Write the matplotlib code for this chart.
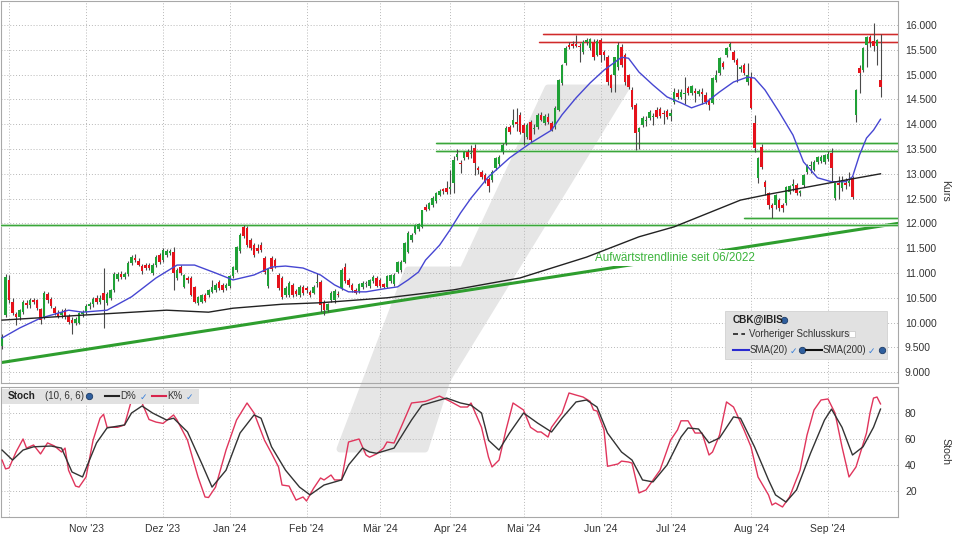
import numpy as np
import pandas as pd
import matplotlib
matplotlib.use("Agg")
import matplotlib.pyplot as plt
from matplotlib.patches import Polygon, Rectangle
from matplotlib.lines import Line2D

plt.rcParams['font.family'] = ['Liberation Sans', 'DejaVu Sans']

# Xetra-Handelstage
holidays = ['2023-12-25', '2023-12-26', '2024-01-01', '2024-03-29', '2024-04-01', '2024-05-01']
dates = pd.bdate_range('2023-09-28', '2024-09-23', freq='C', holidays=holidays)

opens = [
    9.52, 10.15, 10.86, 10.42, 10.18, 10.12, 10.22, 10.40, 10.35, 10.46,
    10.45, 10.27, 10.10, 10.58, 10.48, 10.30, 10.20, 10.15, 10.25, 10.14,
    10.05, 10.00, 10.00, 10.18, 10.22, 10.33, 10.38, 10.50, 10.42, 10.60,
    10.40, 10.50, 10.66, 10.88, 10.98, 10.92, 10.98, 11.20, 11.30, 11.25,
    11.14, 11.16, 11.16, 10.99, 11.16, 11.36, 11.26, 11.36, 11.40, 11.42,
    10.90, 11.12, 10.72, 10.90, 10.90, 10.72, 10.40, 10.42, 10.56, 10.56,
    10.62, 10.66, 10.82, 10.76, 10.70, 10.74, 10.94, 11.06, 11.44, 11.93,
    11.91, 11.67, 11.56, 11.50, 11.56, 11.30, 10.74, 11.30, 11.26, 10.96,
    10.90, 10.56, 10.56, 10.76, 10.64, 10.56, 10.72, 10.70, 10.62, 10.60,
    10.80, 10.82, 10.42, 10.26, 10.45, 10.45, 10.58, 10.70, 11.12, 10.86,
    10.76, 10.66, 10.64, 10.72, 10.78, 10.74, 10.84, 10.90, 10.86, 10.78,
    10.72, 10.84, 10.78, 11.02, 11.06, 11.22, 11.42, 11.66, 11.80, 11.88,
    11.92, 12.34, 12.30, 12.38, 12.46, 12.58, 12.68, 12.72, 12.70, 12.82,
    13.34, 13.22, 13.32, 13.44, 13.40, 13.52, 13.12, 13.04, 12.98, 12.90,
    12.88, 13.12, 13.20, 13.44, 13.62, 13.94, 13.98, 14.04, 14.19, 13.98,
    13.74, 14.04, 13.90, 13.94, 14.19, 14.02, 14.15, 14.02, 13.94, 14.29,
    14.83, 15.23, 15.60, 15.62, 15.62, 15.58, 15.46, 15.66, 15.54, 15.66,
    15.40, 15.70, 15.46, 15.35, 14.99, 14.99, 15.15, 15.56, 15.40, 14.99,
    14.69, 14.39, 13.84, 13.98, 14.06, 14.12, 14.14, 14.29, 14.30, 14.22,
    14.27, 14.16, 14.45, 14.63, 14.55, 14.60, 14.73, 14.62, 14.66, 14.60,
    14.64, 14.59, 14.49, 14.43, 14.90, 15.03, 15.23, 15.40, 15.56, 15.46,
    15.30, 15.12, 15.19, 14.86, 14.95, 14.02, 12.92, 13.54, 12.83, 12.61,
    12.37, 12.37, 12.47, 12.37, 12.41, 12.64, 12.76, 12.77, 12.62, 12.77,
    13.04, 13.16, 13.08, 13.24, 13.26, 13.24, 13.30, 13.42, 12.51, 12.80,
    12.71, 12.80, 12.82, 12.91, 14.19, 15.13, 15.09, 15.60, 15.76, 15.68,
    15.58, 14.89]
highs = [
    9.76, 10.98, 10.96, 10.50, 10.22, 10.28, 10.45, 10.45, 10.50, 10.50,
    10.48, 10.30, 10.64, 10.62, 10.52, 10.34, 10.26, 10.28, 10.30, 10.18,
    10.12, 10.12, 10.22, 10.26, 10.38, 10.42, 10.52, 10.55, 10.55, 11.10,
    10.62, 10.68, 11.02, 11.02, 11.04, 11.02, 11.24, 11.36, 11.38, 11.30,
    11.18, 11.20, 11.20, 11.20, 11.36, 11.40, 11.50, 11.48, 11.48, 11.52,
    11.10, 11.16, 10.98, 10.94, 10.94, 10.74, 10.54, 10.58, 10.60, 10.68,
    10.86, 10.80, 10.86, 10.80, 10.80, 10.96, 11.14, 11.54, 11.80, 11.97,
    11.94, 11.70, 11.60, 11.58, 11.62, 11.34, 11.10, 11.34, 11.30, 11.00,
    10.94, 10.74, 10.84, 10.80, 10.68, 10.76, 10.76, 10.74, 10.66, 10.76,
    11.00, 10.86, 10.46, 10.40, 10.64, 10.68, 10.64, 11.10, 11.20, 10.90,
    10.80, 10.70, 10.80, 10.84, 10.84, 10.88, 10.96, 10.94, 10.90, 10.80,
    10.96, 10.98, 11.00, 11.24, 11.26, 11.62, 11.84, 11.80, 11.98, 12.00,
    12.28, 12.40, 12.44, 12.56, 12.64, 12.70, 12.72, 12.86, 13.08, 13.35,
    13.50, 13.28, 13.46, 13.50, 13.58, 13.60, 13.16, 13.08, 13.02, 12.94,
    13.08, 13.34, 13.38, 13.62, 13.96, 13.98, 14.30, 14.32, 14.24, 14.02,
    14.02, 14.08, 14.00, 14.22, 14.24, 14.20, 14.22, 14.06, 14.36, 14.92,
    15.22, 15.58, 15.66, 15.68, 15.80, 15.64, 15.70, 15.74, 15.74, 15.72,
    15.72, 15.74, 15.50, 15.40, 15.02, 15.36, 15.66, 15.62, 15.44, 15.02,
    14.74, 14.42, 13.94, 14.16, 14.16, 14.28, 14.22, 14.34, 14.34, 14.28,
    14.30, 14.30, 14.72, 14.70, 14.70, 14.95, 14.78, 14.80, 14.72, 14.70,
    14.72, 14.64, 14.52, 14.95, 15.10, 15.36, 15.28, 15.56, 15.66, 15.50,
    15.33, 15.20, 15.24, 15.23, 15.05, 14.19, 13.34, 13.60, 12.88, 12.64,
    12.42, 12.60, 12.52, 12.42, 12.76, 12.78, 12.90, 12.82, 12.68, 13.00,
    13.20, 13.26, 13.28, 13.36, 13.38, 13.40, 13.46, 13.52, 12.84, 12.96,
    12.96, 12.92, 13.04, 12.96, 14.70, 15.20, 15.56, 15.78, 15.80, 16.04,
    15.72, 15.82]
lows = [
    9.46, 10.12, 10.40, 10.15, 9.95, 10.05, 10.18, 10.30, 10.30, 10.38,
    10.25, 9.98, 10.08, 10.40, 10.30, 10.15, 10.10, 10.10, 10.08, 9.98,
    9.78, 9.96, 9.97, 10.12, 10.18, 10.28, 10.32, 10.38, 10.38, 9.89,
    10.35, 10.45, 10.62, 10.84, 10.88, 10.88, 10.94, 11.16, 11.22, 11.14,
    10.98, 11.06, 11.06, 10.96, 11.12, 11.18, 11.22, 11.32, 11.36, 10.66,
    10.86, 10.96, 10.70, 10.80, 10.54, 10.40, 10.36, 10.40, 10.42, 10.52,
    10.60, 10.62, 10.66, 10.62, 10.66, 10.70, 10.90, 11.02, 11.40, 11.70,
    11.52, 11.46, 11.32, 11.40, 11.42, 10.98, 10.70, 11.04, 11.10, 10.66,
    10.48, 10.52, 10.52, 10.52, 10.54, 10.52, 10.56, 10.60, 10.52, 10.58,
    10.72, 10.21, 10.15, 10.22, 10.42, 10.40, 10.52, 10.66, 10.80, 10.72,
    10.62, 10.58, 10.60, 10.68, 10.72, 10.70, 10.80, 10.72, 10.70, 10.70,
    10.70, 10.80, 10.74, 11.00, 11.02, 11.20, 11.40, 11.62, 11.78, 11.85,
    11.90, 12.24, 12.26, 12.34, 12.42, 12.55, 12.60, 12.60, 12.60, 12.62,
    13.28, 13.02, 13.28, 13.30, 13.32, 12.98, 13.00, 12.90, 12.82, 12.63,
    12.84, 13.08, 13.16, 13.40, 13.58, 13.80, 13.94, 13.86, 13.80, 13.58,
    13.70, 13.64, 13.80, 13.90, 14.06, 13.98, 14.00, 13.86, 13.90, 14.26,
    14.80, 15.20, 15.52, 15.54, 15.56, 15.25, 15.42, 15.60, 15.50, 15.30,
    15.38, 15.25, 15.30, 14.80, 14.64, 14.64, 15.10, 15.16, 14.80, 14.70,
    14.30, 13.48, 13.50, 13.94, 13.96, 14.08, 13.98, 14.12, 14.12, 14.00,
    14.10, 14.06, 14.40, 14.50, 14.50, 14.40, 14.58, 14.58, 14.44, 14.56,
    14.40, 14.40, 14.29, 14.40, 14.85, 15.00, 15.12, 15.36, 15.50, 15.26,
    14.85, 15.05, 15.00, 14.80, 14.30, 13.44, 12.81, 13.10, 12.57, 12.30,
    12.11, 12.30, 12.24, 12.22, 12.38, 12.60, 12.66, 12.58, 12.55, 12.74,
    13.00, 13.02, 13.05, 13.20, 13.22, 13.20, 13.26, 12.86, 12.48, 12.50,
    12.66, 12.70, 12.76, 12.50, 14.04, 14.62, 15.05, 15.15, 15.56, 15.48,
    15.20, 14.55]
closes = [
    9.70, 10.92, 10.46, 10.19, 10.12, 10.25, 10.42, 10.35, 10.46, 10.42,
    10.29, 10.05, 10.60, 10.45, 10.33, 10.20, 10.14, 10.22, 10.11, 10.01,
    10.00, 10.08, 10.19, 10.22, 10.33, 10.38, 10.48, 10.42, 10.50, 10.45,
    10.58, 10.65, 10.98, 10.97, 10.92, 10.98, 11.20, 11.32, 11.26, 11.16,
    11.04, 11.10, 11.10, 11.16, 11.32, 11.22, 11.46, 11.44, 11.44, 11.00,
    11.06, 11.00, 10.96, 10.86, 10.56, 10.42, 10.52, 10.56, 10.44, 10.66,
    10.72, 10.76, 10.70, 10.66, 10.76, 10.94, 11.12, 11.52, 11.77, 11.74,
    11.56, 11.50, 11.36, 11.44, 11.46, 11.02, 11.08, 11.08, 11.14, 10.70,
    10.52, 10.70, 10.80, 10.56, 10.58, 10.72, 10.60, 10.66, 10.56, 10.72,
    10.82, 10.35, 10.25, 10.38, 10.60, 10.64, 10.55, 11.06, 10.84, 10.76,
    10.66, 10.60, 10.78, 10.80, 10.78, 10.86, 10.92, 10.74, 10.74, 10.72,
    10.94, 10.96, 10.96, 11.22, 11.22, 11.60, 11.80, 11.77, 11.96, 11.98,
    12.26, 12.28, 12.42, 12.52, 12.62, 12.66, 12.66, 12.64, 12.74, 13.28,
    13.40, 13.20, 13.44, 13.34, 13.42, 13.22, 13.08, 12.94, 12.86, 12.76,
    13.04, 13.32, 13.34, 13.58, 13.92, 13.84, 14.08, 14.00, 13.84, 13.82,
    13.98, 13.68, 13.92, 14.19, 14.09, 14.16, 14.04, 13.88, 14.33, 14.89,
    15.19, 15.54, 15.56, 15.58, 15.58, 15.56, 15.66, 15.70, 15.72, 15.35,
    15.68, 15.40, 15.40, 14.85, 14.73, 15.35, 15.60, 15.19, 14.85, 14.75,
    14.35, 13.82, 13.92, 14.12, 14.08, 14.25, 14.16, 14.15, 14.16, 14.20,
    14.14, 14.22, 14.65, 14.55, 14.65, 14.62, 14.63, 14.77, 14.62, 14.66,
    14.60, 14.45, 14.39, 14.93, 15.00, 15.33, 15.15, 15.54, 15.62, 15.29,
    15.20, 15.16, 15.03, 15.00, 14.33, 13.52, 13.32, 13.14, 12.73, 12.37,
    12.32, 12.57, 12.31, 12.31, 12.73, 12.75, 12.78, 12.61, 12.66, 12.98,
    13.18, 13.18, 13.24, 13.34, 13.34, 13.38, 13.40, 13.12, 12.81, 12.78,
    12.88, 12.78, 12.84, 12.53, 14.69, 15.03, 15.54, 15.76, 15.66, 15.58,
    15.70, 14.75]

# gleitende Durchschnitte (Tag-Index, Wert)
sma20 = [(0, 9.69), (5, 9.89), (11, 10.09), (19, 10.25), (23, 10.21), (30, 10.25),
         (37, 10.52), (44, 10.90), (50, 11.16), (55, 11.16), (61, 11.00), (66, 10.86),
         (72, 10.96), (77, 11.12), (81, 11.14), (86, 11.10), (91, 10.96), (95, 10.76),
         (99, 10.62), (104, 10.62), (109, 10.68), (113, 10.72), (116, 10.86), (119, 11.02),
         (121, 11.26), (125, 11.56), (128, 11.87), (131, 12.21), (134, 12.51), (139, 12.94),
         (145, 13.32), (151, 13.62), (157, 13.88), (160, 14.19), (164, 14.53), (168, 14.83),
         (172, 15.09), (177, 15.35), (179, 15.33), (182, 15.05), (186, 14.79), (190, 14.55),
         (194, 14.43), (197, 14.33), (201, 14.43), (205, 14.65), (209, 14.85), (213, 14.95),
         (215, 14.93), (218, 14.69), (222, 14.25), (226, 13.78), (229, 13.24), (233, 12.92),
         (237, 12.84), (241, 12.84), (243, 12.94), (245, 13.38), (247, 13.72), (249, 13.88),
         (251, 14.10)]
sma200 = [(0, 10.05), (23, 10.15), (47, 10.25), (59, 10.21), (66, 10.29), (80, 10.37),
          (91, 10.40), (110, 10.50), (129, 10.66), (148, 10.90), (167, 11.32), (182, 11.73),
          (192, 11.93), (211, 12.47), (220, 12.60), (236, 12.81), (251, 13.00)]

# Stochastik (10, 6, 6)
stoch_k = [(0, 43.8), (1, 37), (2, 37.7), (4, 50), (6, 60), (7, 53), (9, 55.4), (11, 48.5),
           (13, 57), (15, 54.6), (17, 50), (18, 53), (19, 36), (21, 23.8), (22, 23), (24, 30.8),
           (26, 59), (28, 76), (29, 79), (30, 69), (33, 69), (35, 70.8), (37, 90), (39, 90),
           (40, 87.7), (42, 75), (44, 73), (46, 72), (49, 78.5), (50, 74.6), (53, 59), (56, 30.8),
           (58, 15.4), (59, 15), (61, 23), (64, 51.5), (67, 74.6), (70, 87.7), (72, 80), (75, 59),
           (77, 49), (79, 38.5), (80, 24.6), (82, 23.8), (84, 13), (86, 15.4), (87, 12.3), (89, 22),
           (91, 30), (92, 28.5), (94, 32.3), (95, 28.5), (97, 28.5), (99, 57.7), (102, 60),
           (104, 47.7), (105, 46), (107, 48.5), (109, 53), (110, 57.7), (112, 56.9), (114, 69),
           (117, 87.7), (121, 89), (125, 93), (128, 89), (131, 84.6), (133, 84.6), (134, 87.7),
           (137, 69), (139, 46), (140, 38.5), (142, 43.8), (144, 67), (146, 87.7), (149, 82.3),
           (151, 69), (153, 65.4), (154, 65.4), (156, 61.5), (157, 69), (160, 80), (162, 95.4),
           (164, 93.8), (166, 92.3), (168, 89), (169, 82.3), (170, 81.5), (172, 67), (173, 39),
           (176, 40.8), (177, 43), (179, 42.3), (180, 41.5), (182, 18.5), (184, 20.8), (188, 36),
           (191, 59), (193, 67), (194, 74), (196, 74), (198, 64.6), (200, 64.6), (202, 47.7),
           (203, 50), (205, 63), (207, 88.5), (209, 84.6), (212, 67), (214, 54), (216, 30.8),
           (219, 17), (220, 9.2), (221, 10.8), (223, 7.7), (225, 15.4), (228, 36), (230, 63),
           (232, 82.3), (234, 90), (236, 90.8), (238, 80), (240, 54), (242, 30.8), (244, 38.5),
           (247, 64.6), (248, 80), (249, 91.5), (250, 92.3), (251, 87)]
stoch_d = [(0, 51.5), (3, 43.8), (6, 51.5), (9, 54), (14, 54.6), (17, 53), (20, 34.6), (23, 30.8),
           (27, 57), (30, 68.5), (35, 70.8), (37, 80), (40, 85.4), (43, 80), (47, 74.6), (49, 76),
           (53, 65.4), (57, 41.5), (60, 23), (64, 36), (68, 64.6), (72, 78.5), (74, 76), (77, 54),
           (81, 36), (85, 23), (88, 17), (92, 24.6), (97, 28.5), (99, 40), (103, 53), (105, 50),
           (107, 49), (112, 53), (117, 74.6), (120, 86), (127, 91.5), (131, 87.7), (134, 86),
           (137, 80), (139, 59), (142, 51.5), (145, 64.6), (149, 80), (153, 72.3), (157, 65.4),
           (160, 76), (164, 88.5), (167, 90), (170, 84.6), (173, 64.6), (177, 50), (180, 43.8),
           (183, 28.5), (186, 27), (190, 40), (194, 61.5), (196, 68.5), (199, 67.7), (202, 57),
           (205, 60.8), (209, 77), (211, 76), (215, 54), (219, 28.5), (221, 17), (224, 11.5),
           (227, 20.8), (231, 49), (235, 74.6), (237, 83), (240, 69), (243, 47.7), (246, 54),
           (249, 69), (251, 83)]

# eingezeichnete Linien: (Kurs, Start-Index)
green_levels = [(11.97, -1), (12.11, 212), (13.46, 124), (13.62, 124)]
red_levels = [(15.65, 153.5), (15.82, 154.5)]
trend_x = [-0.6, 256]
trend_y = [9.19, 12.00]
trend_text = "Aufwärtstrendlinie seit 06/2022"
month_names = {10: "", 11: "Nov '23", 12: "Dez '23", 1: "Jan '24", 2: "Feb '24", 3: "Mär '24",
               4: "Apr '24", 5: "Mai '24", 6: "Jun '24", 7: "Jul '24", 8: "Aug '24", 9: "Sep '24"}

W, H = 960, 540
GREEN = '#1fa136'
RED = '#e5121b'
GRID = '#b8b8b8'
TXT = '#333333'


def fbox(left, top, right, bottom):
    return [left / W, 1 - bottom / H, (right - left) / W, (bottom - top) / H]


def fp(x, y):
    return x / W, 1 - y / H


fig = plt.figure(figsize=(9.6, 5.4), dpi=100)
fig.patch.set_facecolor('white')

# Wasserzeichen hinter beiden Panels
wm = [(548, 88), (626, 88), (447, 380), (425, 449), (340, 449), (408, 270), (463, 270)]
fig.patches.append(Polygon([fp(x, y) for x, y in wm], closed=True, transform=fig.transFigure,
                           fc='#e6e6e6', ec='#e6e6e6', lw=5, joinstyle='round', zorder=-5))

ax = fig.add_axes(fbox(1, 1, 898, 383))
ax2 = fig.add_axes(fbox(1, 387, 898, 517), sharex=ax)
for a in (ax, ax2):
    a.set_facecolor('none')
    for s in a.spines.values():
        s.set_color('#a8a8a8')
        s.set_linewidth(0.8)

n = len(closes)
idx = np.arange(n)
o = np.array(opens)
c = np.array(closes)
h = np.maximum.reduce([np.array(highs), o, c])
l = np.minimum.reduce([np.array(lows), o, c])

# Kerzen
ax.vlines(idx, l, h, color='#4a4a4a', lw=0.8, zorder=5)
body_col = np.where(c > o, GREEN, np.where(c < o, RED, '#777777'))
body_h = np.maximum(np.abs(c - o), 0.025)
ax.bar(idx, body_h, bottom=np.minimum(o, c), width=0.74, color=body_col, lw=0, zorder=6)

# Linien
for lvl, start in green_levels:
    ax.plot([start, 257], [lvl, lvl], color='#bfe4bf', lw=1.9, zorder=3, solid_capstyle='butt')
    ax.plot([start, 257], [lvl, lvl], color='#3aa63a', lw=0.9, zorder=3)
for lvl, start in red_levels:
    ax.plot([start, 257], [lvl, lvl], color='#f4c8c8', lw=1.8, zorder=3, solid_capstyle='butt')
    ax.plot([start, 257], [lvl, lvl], color='#d02a2a', lw=0.9, zorder=3)
ax.plot(trend_x, trend_y, color='#2e9e2e', lw=2.2, zorder=2)
ax.text(169.5, 11.30, trend_text, color='#3cb43c', fontsize=8.4, va='center', ha='left', zorder=3,
        bbox=dict(fc='white', ec='none', pad=1.5))

s20 = np.array(sma20)
s200 = np.array(sma200)
ax.plot(s20[:, 0], s20[:, 1], color='#4646d2', lw=1.0, zorder=7)
ax.plot(s200[:, 0], s200[:, 1], color='#222222', lw=1.0, zorder=7)

# Achsen
ax.set_xlim(-0.3, 256)
ax.set_ylim(8.782, 16.484)
ax.yaxis.tick_right()
yt = np.arange(9.0, 16.01, 0.5)
ax.set_yticks(yt)
ax.set_yticklabels([f"{v:.3f}" for v in yt])
ax.tick_params(axis='y', length=0, pad=5, labelsize=7.5, colors=TXT)
ax.tick_params(axis='x', length=0, labelbottom=False)

month_pos, month_lab = [], []
for i, d in enumerate(dates):
    if i > 0 and d.month != dates[i - 1].month:
        month_pos.append(i)
        month_lab.append(month_names[d.month])
ax.set_xticks(month_pos)
ax.grid(True, linestyle=(0, (1, 2)), color=GRID, lw=0.7, zorder=1)

# Stochastik
k = np.array(stoch_k)
d = np.array(stoch_d)
ax2.plot(k[:, 0], k[:, 1], color='#e0355c', lw=1.0, zorder=5)
ax2.plot(d[:, 0], d[:, 1], color='#333333', lw=1.0, zorder=6)
ax2.set_ylim(0, 100)
ax2.yaxis.tick_right()
ax2.set_yticks([20, 40, 60, 80])
ax2.tick_params(axis='y', length=0, pad=5, labelsize=7.5, colors=TXT)
ax2.set_xticks(month_pos)
ax2.set_xticklabels(month_lab)
ax2.tick_params(axis='x', length=0, pad=5, labelsize=7.5, colors=TXT)
ax2.grid(True, linestyle=(0, (1, 2)), color=GRID, lw=0.7, zorder=1)

fig.text(*fp(945, 191), 'Kurs', rotation=270, ha='center', va='center', fontsize=7.6, color=TXT)
fig.text(*fp(945, 452), 'Stoch', rotation=270, ha='center', va='center', fontsize=7.6, color=TXT)


def fline(x0, x1, y, **kw):
    fig.add_artist(Line2D([x0 / W, x1 / W], [1 - y / H] * 2, transform=fig.transFigure, zorder=11, **kw))


def fmark(x, y, **kw):
    fig.add_artist(Line2D([x / W], [1 - y / H], transform=fig.transFigure, lw=0, zorder=11, **kw))


def globe(x, y):
    fmark(x, y, marker='o', markersize=4.6, mfc='#2f5f9e', mec='#1c3b66', mew=0.6)


def check(x, y):
    fig.text(*fp(x, y), '✓', color='#3a7fd8', fontsize=6.5, ha='center', va='center', zorder=11,
             family=['DejaVu Sans'])


# Legende Kurs-Panel
fig.add_artist(Rectangle(fp(725, 359), 162 / W, 48 / H, transform=fig.transFigure,
                         fc='#e1e1e1', ec='#d2d2d2', lw=0.6, zorder=10))
fig.text(*fp(733, 320), 'CBK@IBIS', fontsize=7.2, weight='bold', va='center', color='#222', zorder=11)
globe(784, 320)
fline(733, 745, 334, color='#222', lw=1.2, dashes=(3, 2))
fig.text(*fp(749, 334), 'Vorheriger Schlusskurs', fontsize=7, va='center', color='#333', zorder=11)
fmark(852, 334, marker='s', markersize=4, mfc='white', mec='#cccccc', mew=0.6)
fline(733, 749, 350, color='#2a2ad0', lw=1.5)
fig.text(*fp(750, 350), 'SMA(20)', fontsize=7, va='center', color='#333', zorder=11)
check(793, 351)
globe(802, 350)
fline(806, 822, 350, color='#111', lw=1.5)
fig.text(*fp(823, 350), 'SMA(200)', fontsize=7, va='center', color='#333', zorder=11)
check(871, 351)
globe(882, 350)

# Legende Stoch-Panel
fig.add_artist(Rectangle(fp(2, 404), 197 / W, 15 / H, transform=fig.transFigure,
                         fc='#e1e1e1', ec='none', zorder=10))
fig.text(*fp(8, 396), 'Stoch', fontsize=7.2, weight='bold', va='center', color='#222', zorder=11)
fig.text(*fp(45, 396), '(10, 6, 6)', fontsize=7, va='center', color='#333', zorder=11)
globe(89, 396)
fline(105, 119, 396, color='#222', lw=1.5)
fig.text(*fp(120, 396), 'D%', fontsize=7, va='center', color='#333', zorder=11)
check(143, 397)
fline(152, 166, 396, color='#d8244c', lw=1.5)
fig.text(*fp(167, 396), 'K%', fontsize=7, va='center', color='#333', zorder=11)
check(189, 397)

fig.savefig('out.png', dpi=100)
